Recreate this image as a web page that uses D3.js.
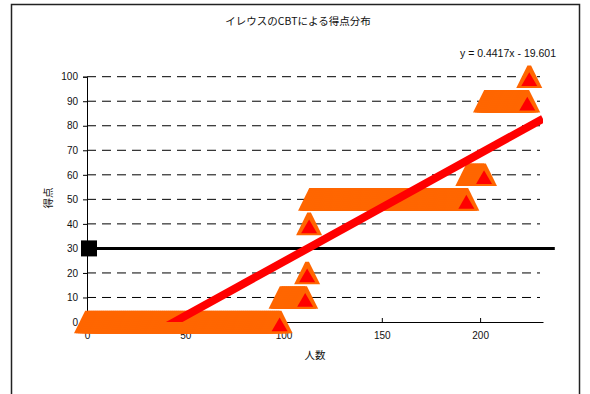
<!DOCTYPE html>
<html lang="ja">
<head>
<meta charset="utf-8">
<title>イレウスのCBTによる得点分布</title>
<script src="https://cdn.jsdelivr.net/npm/d3@7"></script>
<style>
  html, body { margin: 0; padding: 0; background: #fff; }
  svg { display: block; }
  .tick-label { font-family: "Liberation Sans", Arial, sans-serif; font-size: 10px; fill: #111; }
  .jp { font-family: "Noto Sans CJK JP", sans-serif; fill: #111; }
</style>
</head>
<body>
<svg id="chart" width="590" height="394"></svg>
<script>
/* ── Data ──────────────────────────────────────────────── */
// score groups, and how many people got each score (people are
// lined up along the x axis in order of score)
const scores = [0, 10, 20, 40, 50, 60, 90, 100];
const counts = [99, 13, 1, 1, 80, 9, 22, 1];

const xTicks = [0, 50, 100, 150, 200];
const yTicks = [0, 10, 20, 30, 40, 50, 60, 70, 80, 90, 100];

const xMax = 232;
const passScore = 30;           // 合格ライン
const passLineX = [0, 238];

const trendSlope = 0.4417;
const trendIntercept = -19.601;
const trendLabel = 'y = 0.4417x - 19.601';

/* ── Setup ─────────────────────────────────────────────── */
const svg = d3.select('#chart');

const x = d3.scaleLinear().domain([0, xMax]).range([87, 543]);
const y = d3.scaleLinear().domain([0, 100]).range([322, 76.7]);

// one point per person
const points = [];
let idx = 0;
scores.forEach((s, g) => {
  for (let k = 0; k < counts[g]; k++) {
    points.push({ x: idx, y: s, last: k === counts[g] - 1 });
    idx++;
  }
});

/* ── Frame + title ─────────────────────────────────────── */
svg.append('rect')
  .attr('x', 11.5).attr('y', 4.5)
  .attr('width', 568).attr('height', 420)
  .attr('fill', 'none').attr('stroke', '#222').attr('stroke-width', 1.5);

svg.append('text')
  .attr('class', 'jp')
  .attr('x', 298).attr('y', 25)
  .attr('text-anchor', 'middle')
  .style('font-size', '10.5px')
  .text('イレウスのCBTによる得点分布');

svg.append('text')
  .attr('class', 'tick-label')
  .attr('x', 556).attr('y', 57)
  .attr('text-anchor', 'end')
  .style('font-size', '10.5px')
  .text(trendLabel);

/* ── Gridlines ─────────────────────────────────────────── */
svg.append('g')
  .selectAll('line')
  .data(yTicks.filter(t => t > 0))
  .enter()
  .append('line')
  .attr('x1', x(0)).attr('x2', x(xMax) - 3)
  .attr('y1', d => y(d)).attr('y2', d => y(d))
  .attr('stroke', '#000')
  .attr('stroke-width', 1)
  .attr('stroke-dasharray', '9,6');

/* ── Axes ──────────────────────────────────────────────── */
const yAxis = svg.append('g')
  .attr('transform', `translate(${x(0)},0)`)
  .call(d3.axisLeft(y).tickValues(yTicks).tickSize(4).tickPadding(5));
yAxis.select('.domain').attr('stroke', '#000');
yAxis.selectAll('.tick line').attr('stroke', '#000');
yAxis.selectAll('.tick text').attr('class', 'tick-label').attr('fill', null);

const xAxis = svg.append('g')
  .attr('transform', `translate(0,${y(0)})`)
  .call(d3.axisBottom(x).tickValues(xTicks).tickSize(-4).tickSizeOuter(0).tickPadding(10));
xAxis.select('.domain').attr('stroke', '#000');
xAxis.selectAll('.tick line').attr('stroke', '#000');
xAxis.selectAll('.tick text').attr('class', 'tick-label').attr('fill', null);

svg.append('text')
  .attr('class', 'jp')
  .attr('transform', 'translate(52,198) rotate(-90)')
  .attr('text-anchor', 'middle')
  .style('font-size', '10.5px')
  .text('得点');

svg.append('text')
  .attr('class', 'jp')
  .attr('x', 315).attr('y', 359)
  .attr('text-anchor', 'middle')
  .style('font-size', '10.5px')
  .text('人数');

/* ── Pass line (30点) ──────────────────────────────────── */
svg.append('line')
  .attr('x1', x(passLineX[0])).attr('x2', x(passLineX[1]))
  .attr('y1', y(passScore)).attr('y2', y(passScore))
  .attr('stroke', '#000').attr('stroke-width', 3);

/* ── Score markers ─────────────────────────────────────── */
// blunt apex so that neighbouring markers merge into a flat band
const outerTri = 'M-1.8,-11.3 L1.8,-11.3 L13,11.3 L-13,11.3 Z';
const innerTri = 'M0,-4.5 L8,9.3 L-8,9.3 Z';

const marks = svg.append('g');
marks.selectAll('path.outer')
  .data(points)
  .enter()
  .append('path')
  .attr('class', 'outer')
  .attr('d', outerTri)
  .attr('transform', d => `translate(${x(d.x)},${y(d.y)})`)
  .attr('fill', '#FF6600');

marks.selectAll('path.inner')
  .data(points.filter(d => d.last))
  .enter()
  .append('path')
  .attr('class', 'inner')
  .attr('d', innerTri)
  .attr('transform', d => `translate(${x(d.x)},${y(d.y)})`)
  .attr('fill', '#FF0000');

/* ── Trend line ────────────────────────────────────────── */
svg.append('clipPath')
  .attr('id', 'plot-clip')
  .append('rect')
  .attr('x', x(0)).attr('y', y(100))
  .attr('width', x(xMax) - x(0)).attr('height', y(0) - y(100));

svg.append('line')
  .attr('clip-path', 'url(#plot-clip)')
  .attr('x1', x(0)).attr('y1', y(trendIntercept))
  .attr('x2', x(xMax)).attr('y2', y(trendSlope * xMax + trendIntercept))
  .attr('stroke', '#FF0000')
  .attr('stroke-width', 8);

/* ── Pass marker ───────────────────────────────────────── */
svg.append('rect')
  .attr('x', x(passLineX[0]) - 6).attr('y', y(passScore) - 8)
  .attr('width', 16).attr('height', 16)
  .attr('fill', '#000');
</script>
</body>
</html>
